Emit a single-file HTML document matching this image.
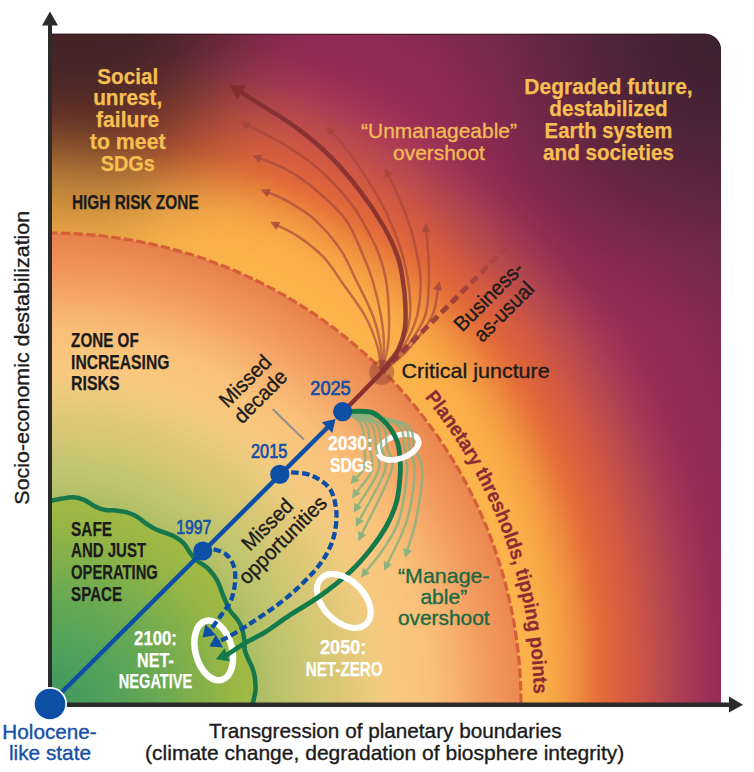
<!DOCTYPE html>
<html><head><meta charset="utf-8">
<style>
html,body{margin:0;padding:0;background:#fff;}
body{width:754px;height:772px;overflow:hidden;}
svg{display:block;}
text{font-family:"Liberation Sans",sans-serif;}
</style></head><body>
<svg width="754" height="772" viewBox="0 0 754 772">
<defs>
 <clipPath id="plot"><path d="M52 33.7 H705 A16 16 0 0 1 721 49.7 V703 H52 Z"/></clipPath>
 <clipPath id="outside"><path d="M0 0 H754 V772 H0 Z M50 233 A471 471 0 0 0 50 1175 A471 471 0 0 0 50 233 Z" clip-rule="evenodd"/></clipPath>
 <radialGradient id="outer" gradientUnits="userSpaceOnUse" cx="50" cy="704" r="960" gradientTransform="translate(50 704) scale(0.975 1) rotate(-45) scale(1.04 0.99) rotate(45) translate(-50 -704)">
  <stop offset="0.4906" stop-color="#fbb44c"/>
  <stop offset="0.4973" stop-color="#fbb24b"/>
  <stop offset="0.5040" stop-color="#fbb14b"/>
  <stop offset="0.5106" stop-color="#faaf4a"/>
  <stop offset="0.5173" stop-color="#faad49"/>
  <stop offset="0.5240" stop-color="#f9aa48"/>
  <stop offset="0.5310" stop-color="#f7a546"/>
  <stop offset="0.5380" stop-color="#f59f44"/>
  <stop offset="0.5451" stop-color="#f39842"/>
  <stop offset="0.5521" stop-color="#f09040"/>
  <stop offset="0.5579" stop-color="#ee893e"/>
  <stop offset="0.5638" stop-color="#eb813d"/>
  <stop offset="0.5696" stop-color="#e8793b"/>
  <stop offset="0.5754" stop-color="#e5723a"/>
  <stop offset="0.5813" stop-color="#e26c3a"/>
  <stop offset="0.5875" stop-color="#df673b"/>
  <stop offset="0.5938" stop-color="#dc633c"/>
  <stop offset="0.6000" stop-color="#d9603e"/>
  <stop offset="0.6062" stop-color="#d65d40"/>
  <stop offset="0.6125" stop-color="#d25a42"/>
  <stop offset="0.6188" stop-color="#ce5744"/>
  <stop offset="0.6250" stop-color="#ca5447"/>
  <stop offset="0.6312" stop-color="#c55049"/>
  <stop offset="0.6375" stop-color="#c04d4c"/>
  <stop offset="0.6438" stop-color="#bc4a4e"/>
  <stop offset="0.6500" stop-color="#b84650"/>
  <stop offset="0.6562" stop-color="#b34351"/>
  <stop offset="0.6625" stop-color="#ae3f53"/>
  <stop offset="0.6687" stop-color="#aa3b54"/>
  <stop offset="0.6750" stop-color="#a63855"/>
  <stop offset="0.6815" stop-color="#a23556"/>
  <stop offset="0.6880" stop-color="#9e3256"/>
  <stop offset="0.6945" stop-color="#9b3056"/>
  <stop offset="0.7010" stop-color="#982e56"/>
  <stop offset="0.7072" stop-color="#962d56"/>
  <stop offset="0.7133" stop-color="#952c56"/>
  <stop offset="0.7194" stop-color="#932c55"/>
  <stop offset="0.7255" stop-color="#922c55"/>
  <stop offset="0.7316" stop-color="#912b54"/>
  <stop offset="0.7378" stop-color="#902b54"/>
  <stop offset="0.7439" stop-color="#8e2b54"/>
  <stop offset="0.7500" stop-color="#8d2b53"/>
  <stop offset="0.7562" stop-color="#8b2b52"/>
  <stop offset="0.7625" stop-color="#8a2b52"/>
  <stop offset="0.7688" stop-color="#882b51"/>
  <stop offset="0.7750" stop-color="#862a50"/>
  <stop offset="0.7812" stop-color="#842a50"/>
  <stop offset="0.7875" stop-color="#822a4f"/>
  <stop offset="0.7937" stop-color="#802a4e"/>
  <stop offset="0.8000" stop-color="#7f2a4d"/>
  <stop offset="0.8063" stop-color="#7d2a4d"/>
  <stop offset="0.8125" stop-color="#7b2a4c"/>
  <stop offset="0.8186" stop-color="#792a4b"/>
  <stop offset="0.8247" stop-color="#782a4b"/>
  <stop offset="0.8307" stop-color="#762a4a"/>
  <stop offset="0.8368" stop-color="#74294a"/>
  <stop offset="0.8429" stop-color="#722949"/>
  <stop offset="0.8490" stop-color="#712949"/>
  <stop offset="0.8550" stop-color="#6f2948"/>
  <stop offset="0.8611" stop-color="#6d2947"/>
  <stop offset="0.8672" stop-color="#6c2947"/>
  <stop offset="0.8733" stop-color="#6a2846"/>
  <stop offset="0.8793" stop-color="#682846"/>
  <stop offset="0.8854" stop-color="#672845"/>
  <stop offset="0.8916" stop-color="#662844"/>
  <stop offset="0.8977" stop-color="#642844"/>
  <stop offset="0.9039" stop-color="#632743"/>
  <stop offset="0.9100" stop-color="#612742"/>
  <stop offset="0.9162" stop-color="#602741"/>
  <stop offset="0.9223" stop-color="#5f2741"/>
  <stop offset="0.9285" stop-color="#5e2740"/>
  <stop offset="0.9347" stop-color="#5d273f"/>
  <stop offset="0.9408" stop-color="#5b263f"/>
  <stop offset="0.9470" stop-color="#5a263e"/>
  <stop offset="0.9531" stop-color="#59263d"/>
  <stop offset="0.9590" stop-color="#58263c"/>
  <stop offset="0.9648" stop-color="#57263c"/>
  <stop offset="0.9707" stop-color="#56263b"/>
  <stop offset="0.9766" stop-color="#55253a"/>
  <stop offset="0.9824" stop-color="#542539"/>
  <stop offset="0.9883" stop-color="#532539"/>
  <stop offset="0.9941" stop-color="#522538"/>
  <stop offset="1.0000" stop-color="#512537"/>
 </radialGradient>
 <radialGradient id="lyellow" gradientUnits="userSpaceOnUse" cx="52" cy="205" r="100" gradientTransform="translate(52 205) scale(1.15 1) translate(-52 -205)">
  <stop offset="0" stop-color="#eca442" stop-opacity="0.9"/>
  <stop offset="0.5" stop-color="#eca442" stop-opacity="0.55"/>
  <stop offset="1" stop-color="#eca442" stop-opacity="0"/>
 </radialGradient>
 <radialGradient id="tldark" gradientUnits="userSpaceOnUse" cx="40" cy="20" r="200" gradientTransform="translate(40 20) scale(1.5 1) translate(-40 -20)">
  <stop offset="0" stop-color="#2e1e24" stop-opacity="1"/>
  <stop offset="0.3" stop-color="#2e1e24" stop-opacity="0.9"/>
  <stop offset="0.5" stop-color="#2e1e24" stop-opacity="0.6"/>
  <stop offset="0.7" stop-color="#2e1e24" stop-opacity="0.25"/>
  <stop offset="0.85" stop-color="#2e1e24" stop-opacity="0.07"/>
  <stop offset="1" stop-color="#2e1e24" stop-opacity="0"/>
 </radialGradient>
 <radialGradient id="trdark" gradientUnits="userSpaceOnUse" cx="721" cy="33" r="360" gradientTransform="translate(721 33) rotate(135) scale(1 0.66) translate(-721 -33)">
  <stop offset="0" stop-color="#36202c" stop-opacity="0.85"/>
  <stop offset="0.25" stop-color="#36202c" stop-opacity="0.62"/>
  <stop offset="0.5" stop-color="#36202c" stop-opacity="0.36"/>
  <stop offset="0.75" stop-color="#36202c" stop-opacity="0.11"/>
  <stop offset="1" stop-color="#36202c" stop-opacity="0"/>
 </radialGradient>
 <linearGradient id="bauFade" gradientUnits="userSpaceOnUse" x1="382" y1="372" x2="506" y2="248">
  <stop offset="0" stop-color="#8b3038" stop-opacity="0.85"/>
  <stop offset="0.6" stop-color="#8b3038" stop-opacity="0.75"/>
  <stop offset="1" stop-color="#8b3038" stop-opacity="0.15"/>
 </linearGradient>
 <radialGradient id="inner" gradientUnits="userSpaceOnUse" cx="50" cy="704" r="471" gradientTransform="translate(50 704) scale(1.03 1) translate(-50 -704)">
  <stop offset="0.0000" stop-color="#3f9a62"/>
  <stop offset="0.0129" stop-color="#429b62"/>
  <stop offset="0.0258" stop-color="#459c62"/>
  <stop offset="0.0387" stop-color="#489d61"/>
  <stop offset="0.0516" stop-color="#4c9e61"/>
  <stop offset="0.0645" stop-color="#4f9f61"/>
  <stop offset="0.0773" stop-color="#52a061"/>
  <stop offset="0.0902" stop-color="#55a161"/>
  <stop offset="0.1031" stop-color="#58a360"/>
  <stop offset="0.1160" stop-color="#5ba460"/>
  <stop offset="0.1289" stop-color="#5ea560"/>
  <stop offset="0.1418" stop-color="#62a660"/>
  <stop offset="0.1547" stop-color="#65a75f"/>
  <stop offset="0.1676" stop-color="#68a85f"/>
  <stop offset="0.1805" stop-color="#6ba95f"/>
  <stop offset="0.1934" stop-color="#6eaa5f"/>
  <stop offset="0.2062" stop-color="#71ab5e"/>
  <stop offset="0.2191" stop-color="#74ac5e"/>
  <stop offset="0.2320" stop-color="#78ad5e"/>
  <stop offset="0.2449" stop-color="#7bae5e"/>
  <stop offset="0.2578" stop-color="#7eaf5e"/>
  <stop offset="0.2707" stop-color="#81b05e"/>
  <stop offset="0.2836" stop-color="#84b15e"/>
  <stop offset="0.2965" stop-color="#88b35e"/>
  <stop offset="0.3094" stop-color="#8bb45e"/>
  <stop offset="0.3223" stop-color="#8eb55e"/>
  <stop offset="0.3352" stop-color="#91b65e"/>
  <stop offset="0.3480" stop-color="#95b75e"/>
  <stop offset="0.3609" stop-color="#98b85e"/>
  <stop offset="0.3731" stop-color="#9bb95e"/>
  <stop offset="0.3852" stop-color="#9fba60"/>
  <stop offset="0.3973" stop-color="#a3bb61"/>
  <stop offset="0.4095" stop-color="#a7bd63"/>
  <stop offset="0.4216" stop-color="#aabe65"/>
  <stop offset="0.4337" stop-color="#aebf66"/>
  <stop offset="0.4459" stop-color="#b2c068"/>
  <stop offset="0.4580" stop-color="#b6c169"/>
  <stop offset="0.4701" stop-color="#b9c26b"/>
  <stop offset="0.4823" stop-color="#bdc36c"/>
  <stop offset="0.4944" stop-color="#c0c46e"/>
  <stop offset="0.5065" stop-color="#c3c56f"/>
  <stop offset="0.5187" stop-color="#c7c571"/>
  <stop offset="0.5308" stop-color="#cac672"/>
  <stop offset="0.5429" stop-color="#cdc673"/>
  <stop offset="0.5551" stop-color="#d0c774"/>
  <stop offset="0.5672" stop-color="#d3c775"/>
  <stop offset="0.5793" stop-color="#d7c775"/>
  <stop offset="0.5914" stop-color="#dac776"/>
  <stop offset="0.6036" stop-color="#ddc877"/>
  <stop offset="0.6157" stop-color="#e0c878"/>
  <stop offset="0.6299" stop-color="#e4c97a"/>
  <stop offset="0.6440" stop-color="#e8ca7c"/>
  <stop offset="0.6582" stop-color="#eccb7e"/>
  <stop offset="0.6709" stop-color="#efcb7f"/>
  <stop offset="0.6837" stop-color="#f3ca80"/>
  <stop offset="0.6964" stop-color="#f6c980"/>
  <stop offset="0.7091" stop-color="#f8c880"/>
  <stop offset="0.7219" stop-color="#f9c77f"/>
  <stop offset="0.7346" stop-color="#f9c67e"/>
  <stop offset="0.7473" stop-color="#f9c57d"/>
  <stop offset="0.7601" stop-color="#f9c47c"/>
  <stop offset="0.7728" stop-color="#f9c27a"/>
  <stop offset="0.7856" stop-color="#f9c078"/>
  <stop offset="0.7983" stop-color="#f9bd77"/>
  <stop offset="0.8110" stop-color="#f8b975"/>
  <stop offset="0.8238" stop-color="#f8b672"/>
  <stop offset="0.8365" stop-color="#f7b270"/>
  <stop offset="0.8493" stop-color="#f6ae6d"/>
  <stop offset="0.8620" stop-color="#f5a96a"/>
  <stop offset="0.8747" stop-color="#f4a567"/>
  <stop offset="0.8875" stop-color="#f3a063"/>
  <stop offset="0.9002" stop-color="#f29c60"/>
  <stop offset="0.9130" stop-color="#f1985d"/>
  <stop offset="0.9257" stop-color="#f0955a"/>
  <stop offset="0.9384" stop-color="#ef9157"/>
  <stop offset="0.9512" stop-color="#ed8e55"/>
  <stop offset="0.9639" stop-color="#ec8a52"/>
  <stop offset="0.9759" stop-color="#ea8650"/>
  <stop offset="0.9880" stop-color="#e8824e"/>
  <stop offset="1.0000" stop-color="#e67e4c"/>
 </radialGradient>
 <radialGradient id="green" gradientUnits="userSpaceOnUse" cx="50" cy="704" r="240">
  <stop offset="0.0000" stop-color="#40985e"/>
  <stop offset="0.0260" stop-color="#42995e"/>
  <stop offset="0.0521" stop-color="#439a5e"/>
  <stop offset="0.0781" stop-color="#459b5e"/>
  <stop offset="0.1042" stop-color="#469c5d"/>
  <stop offset="0.1302" stop-color="#489d5d"/>
  <stop offset="0.1562" stop-color="#4a9e5d"/>
  <stop offset="0.1823" stop-color="#4c9f5d"/>
  <stop offset="0.2083" stop-color="#4ea05c"/>
  <stop offset="0.2344" stop-color="#50a15b"/>
  <stop offset="0.2604" stop-color="#53a25a"/>
  <stop offset="0.2865" stop-color="#55a35a"/>
  <stop offset="0.3125" stop-color="#58a458"/>
  <stop offset="0.3385" stop-color="#5ba557"/>
  <stop offset="0.3646" stop-color="#5ea656"/>
  <stop offset="0.3906" stop-color="#61a755"/>
  <stop offset="0.4167" stop-color="#64a854"/>
  <stop offset="0.4427" stop-color="#68a953"/>
  <stop offset="0.4688" stop-color="#6baa52"/>
  <stop offset="0.4948" stop-color="#6fab50"/>
  <stop offset="0.5208" stop-color="#73ac4f"/>
  <stop offset="0.5469" stop-color="#78ad4e"/>
  <stop offset="0.5729" stop-color="#7cae4c"/>
  <stop offset="0.5990" stop-color="#80af4b"/>
  <stop offset="0.6250" stop-color="#84b04a"/>
  <stop offset="0.6488" stop-color="#88b149"/>
  <stop offset="0.6726" stop-color="#8bb248"/>
  <stop offset="0.6964" stop-color="#8fb447"/>
  <stop offset="0.7202" stop-color="#93b546"/>
  <stop offset="0.7440" stop-color="#96b645"/>
  <stop offset="0.7679" stop-color="#99b744"/>
  <stop offset="0.7917" stop-color="#9cb844"/>
  <stop offset="0.8177" stop-color="#9eb944"/>
  <stop offset="0.8438" stop-color="#a0b944"/>
  <stop offset="0.8698" stop-color="#a2ba44"/>
  <stop offset="0.8958" stop-color="#a3ba44"/>
  <stop offset="0.9219" stop-color="#a4bb45"/>
  <stop offset="0.9479" stop-color="#a5bb45"/>
  <stop offset="0.9740" stop-color="#a7bc46"/>
  <stop offset="1.0000" stop-color="#a8bc46"/>
 </radialGradient>
 <clipPath id="lowerHalf2030"><path d="M340 468 L460 425 L460 500 L340 500 Z"/></clipPath>
 <clipPath id="upperHalf2050"><path d="M260 517 L420 677 L480 677 L480 480 L260 480 Z"/></clipPath>
 <path id="arcText" d="M50 220 A484 484 0 0 1 534 704"/>
 <filter id="blurTL" color-interpolation-filters="sRGB" filterUnits="userSpaceOnUse" x="-400" y="-400" width="1600" height="1600"><feGaussianBlur stdDeviation="52"/></filter>
</defs>
<g clip-path="url(#plot)">
 <rect x="0" y="0" width="754" height="772" fill="url(#outer)"/>
 <rect x="0" y="0" width="754" height="772" fill="url(#lyellow)" clip-path="url(#outside)"/>
 <path d="M-200 -200 L265 -200 L230 50 L205 95 L182 140 L145 172 L100 178 L60 155 L-200 145 Z" fill="#35211f" fill-opacity="0.88" filter="url(#blurTL)"/>
 <rect x="0" y="0" width="754" height="772" fill="url(#trdark)"/>
 <circle cx="50" cy="704" r="471" fill="url(#inner)"/>
 <path d="M50.0 501.0 C51.8 500.6 56.8 499.4 60.7 498.8 C64.6 498.2 69.6 497.1 73.5 497.3 C77.4 497.5 80.6 498.4 84.1 499.9 C87.6 501.4 91.2 504.5 94.7 506.2 C98.2 507.9 101.8 509.3 105.3 510.0 C108.8 510.7 112.4 510.1 115.9 510.5 C119.4 510.9 123.0 511.2 126.5 512.2 C130.0 513.2 133.9 515.0 137.1 516.8 C140.3 518.6 142.8 521.2 145.6 523.2 C148.4 525.2 150.9 526.9 154.1 528.5 C157.3 530.1 161.2 531.3 164.7 532.7 C168.2 534.1 172.1 535.2 175.3 537.0 C178.5 538.8 181.3 540.8 183.8 543.4 C186.3 546.0 188.1 550.1 190.2 552.9 C192.3 555.7 193.5 557.6 196.5 560.3 C199.5 562.9 205.0 565.4 208.4 568.8 C211.8 572.2 214.8 576.1 217.2 580.5 C219.6 584.9 220.9 590.1 223.0 595.0 C225.1 599.9 227.3 606.0 229.6 610.0 C231.9 614.0 235.0 616.2 237.0 619.0 C239.0 621.8 240.3 623.5 241.5 627.0 C242.7 630.5 243.8 636.2 244.4 640.0 C245.0 643.8 244.1 646.7 244.8 650.0 C245.5 653.3 247.3 656.8 248.7 660.0 C250.0 663.2 251.8 666.2 252.9 669.4 C254.0 672.6 254.6 675.6 255.0 679.0 C255.4 682.4 255.8 686.0 255.5 690.0 C255.2 694.0 253.6 699.7 253.0 703.0 C252.4 706.3 252.2 708.8 252.0 710.0 L40 708 L40 502 Z" fill="url(#green)"/>
 <path d="M50.0 501.0 C51.8 500.6 56.8 499.4 60.7 498.8 C64.6 498.2 69.6 497.1 73.5 497.3 C77.4 497.5 80.6 498.4 84.1 499.9 C87.6 501.4 91.2 504.5 94.7 506.2 C98.2 507.9 101.8 509.3 105.3 510.0 C108.8 510.7 112.4 510.1 115.9 510.5 C119.4 510.9 123.0 511.2 126.5 512.2 C130.0 513.2 133.9 515.0 137.1 516.8 C140.3 518.6 142.8 521.2 145.6 523.2 C148.4 525.2 150.9 526.9 154.1 528.5 C157.3 530.1 161.2 531.3 164.7 532.7 C168.2 534.1 172.1 535.2 175.3 537.0 C178.5 538.8 181.3 540.8 183.8 543.4 C186.3 546.0 188.1 550.1 190.2 552.9 C192.3 555.7 193.5 557.6 196.5 560.3 C199.5 562.9 205.0 565.4 208.4 568.8 C211.8 572.2 214.8 576.1 217.2 580.5 C219.6 584.9 220.9 590.1 223.0 595.0 C225.1 599.9 227.3 606.0 229.6 610.0 C231.9 614.0 235.0 616.2 237.0 619.0 C239.0 621.8 240.3 623.5 241.5 627.0 C242.7 630.5 243.8 636.2 244.4 640.0 C245.0 643.8 244.1 646.7 244.8 650.0 C245.5 653.3 247.3 656.8 248.7 660.0 C250.0 663.2 251.8 666.2 252.9 669.4 C254.0 672.6 254.6 675.6 255.0 679.0 C255.4 682.4 255.8 686.0 255.5 690.0 C255.2 694.0 253.6 699.7 253.0 703.0 C252.4 706.3 252.2 708.8 252.0 710.0" fill="none" stroke="#17774a" stroke-width="4.5"/>
 <circle cx="50" cy="704" r="471" fill="none" stroke="#d65f38" stroke-width="3.2" stroke-dasharray="9.3 3.3"/>
 <rect x="52" y="33.7" width="655" height="1.1" fill="#2c1a1e" fill-opacity="0.85"/>
</g>
<text font-weight="bold" font-size="20" fill="#8b2b34" stroke="#8b2b34" stroke-width="0.25"><textPath href="#arcText" xlink:href="#arcText" startOffset="428" textLength="322" lengthAdjust="spacingAndGlyphs">Planetary thresholds, tipping points</textPath></text>
<ellipse cx="343.8" cy="601" rx="32" ry="20.5" transform="rotate(45 343.8 601)" fill="none" stroke="#fff" stroke-width="6"/>
<ellipse cx="213.7" cy="650.4" rx="18.3" ry="30.5" transform="rotate(-15 213.7 650.4)" fill="none" stroke="#fff" stroke-width="6.5"/>
<path d="M381.7 372.0 C382.8 367.5 386.8 354.3 388.0 345.0 C389.2 335.7 389.3 326.8 389.0 316.0 C388.7 305.2 387.8 290.7 386.0 280.0 C384.2 269.3 381.7 261.3 378.0 252.0 C374.3 242.7 368.6 232.2 364.0 224.0 C359.4 215.8 357.4 211.3 350.3 202.6 C343.2 193.9 332.4 181.1 321.6 171.6 C310.9 162.1 298.4 153.3 285.8 145.4 C273.2 137.5 252.5 127.9 245.8 124.4" fill="none" stroke="#a6463c" stroke-opacity="0.66" stroke-width="2.5"/>
<path d="M240.5 121.6 L250.6 121.8 L246.4 129.8 Z" fill="#a3463a" fill-opacity="0.8"/>
<path d="M381.7 372.0 C382.1 367.5 384.1 354.3 384.0 345.0 C383.9 335.7 382.8 326.5 381.0 316.0 C379.2 305.5 376.0 292.2 373.0 282.0 C370.0 271.8 367.6 265.4 363.0 255.0 C358.4 244.6 353.2 230.1 345.5 219.4 C337.8 208.7 326.8 199.1 316.8 190.7 C306.9 182.3 295.6 174.7 285.8 169.2 C276.0 163.7 262.6 159.6 257.9 157.7" fill="none" stroke="#a6463c" stroke-opacity="0.66" stroke-width="2.5"/>
<path d="M252.4 155.4 L262.4 154.7 L259.0 163.0 Z" fill="#a3463a" fill-opacity="0.8"/>
<path d="M381.7 372.0 C381.5 367.5 381.9 354.3 380.5 345.0 C379.1 335.7 377.1 326.8 373.0 316.0 C368.9 305.2 361.4 291.0 356.0 280.0 C350.6 269.0 347.6 260.1 340.7 250.0 C333.8 239.9 323.6 227.7 314.5 219.4 C305.4 211.1 293.8 204.9 285.8 200.3 C277.8 195.7 269.5 193.3 266.2 191.9" fill="none" stroke="#a6463c" stroke-opacity="0.66" stroke-width="2.5"/>
<path d="M260.7 189.5 L270.7 188.9 L267.2 197.2 Z" fill="#a3463a" fill-opacity="0.8"/>
<path d="M381.7 372.0 C380.9 367.5 379.8 354.3 377.0 345.0 C374.2 335.7 371.0 326.7 365.0 316.0 C359.0 305.3 347.8 290.7 341.0 281.0 C334.2 271.3 331.2 265.1 324.0 257.6 C316.8 250.1 305.8 241.6 297.7 236.1 C289.6 230.6 279.3 226.4 275.6 224.5" fill="none" stroke="#a6463c" stroke-opacity="0.66" stroke-width="2.5"/>
<path d="M270.3 221.7 L280.4 221.9 L276.2 229.9 Z" fill="#a3463a" fill-opacity="0.8"/>
<path d="M381.7 372.0 C384.9 367.5 396.3 354.3 401.0 345.0 C405.7 335.7 408.8 326.8 410.0 316.0 C411.2 305.2 409.6 291.3 408.0 280.0 C406.4 268.7 404.0 259.3 400.4 248.0 C396.8 236.7 391.7 223.7 386.1 212.2 C380.5 200.7 373.8 189.6 367.0 178.8 C360.2 168.1 351.6 155.7 345.5 147.7 C339.4 139.7 332.9 133.6 330.4 130.8" fill="none" stroke="#a6463c" stroke-opacity="0.66" stroke-width="2.5"/>
<path d="M326.4 126.3 L335.8 130.0 L329.0 136.0 Z" fill="#a3463a" fill-opacity="0.8"/>
<path d="M381.7 372.0 C385.2 367.8 397.1 356.3 403.0 347.0 C408.9 337.7 414.1 327.2 417.0 316.0 C419.9 304.8 420.7 290.1 420.7 280.0 C420.7 269.9 418.9 264.1 417.1 255.2 C415.3 246.3 413.2 236.4 410.0 226.5 C406.8 216.6 401.8 204.3 398.0 195.5 C394.2 186.7 389.2 177.1 387.5 173.4" fill="none" stroke="#a6463c" stroke-opacity="0.66" stroke-width="2.5"/>
<path d="M384.9 168.0 L392.8 174.2 L384.7 178.1 Z" fill="#a3463a" fill-opacity="0.8"/>
<path d="M381.7 372.0 C385.6 368.2 397.8 358.3 405.0 349.0 C412.2 339.7 421.0 327.5 425.0 316.0 C429.0 304.5 428.5 291.3 429.0 280.0 C429.5 268.7 428.3 256.5 427.8 248.0 C427.3 239.5 426.3 232.1 426.0 228.9" fill="none" stroke="#a6463c" stroke-opacity="0.66" stroke-width="2.5"/>
<path d="M425.5 222.9 L430.8 231.5 L421.8 232.3 Z" fill="#a3463a" fill-opacity="0.8"/>
<path d="M381.7 372.0 C385.9 368.5 398.6 360.3 407.0 351.0 C415.4 341.7 426.8 326.7 432.0 316.0 C437.2 305.3 437.1 291.7 438.2 286.9" fill="none" stroke="#a6463c" stroke-opacity="0.66" stroke-width="2.5"/>
<path d="M439.4 281.0 L441.9 290.7 L433.1 288.9 Z" fill="#a3463a" fill-opacity="0.8"/>
<path d="M381.7 372.0 C382.9 370.3 386.2 365.7 389.0 362.0 C391.8 358.3 395.7 354.9 398.3 349.6 C400.9 344.3 403.4 336.6 404.6 330.0 C405.8 323.4 405.7 317.5 405.5 310.0 C405.3 302.5 404.8 293.7 403.5 285.0 C402.2 276.3 401.3 267.4 398.0 257.6 C394.7 247.9 390.1 237.7 383.7 226.5 C377.3 215.3 368.6 202.2 359.8 190.7 C351.1 179.2 341.6 167.7 331.2 157.3 C320.8 147.0 310.0 137.8 297.7 128.6 C285.4 119.4 267.3 108.8 257.2 102.4 C247.1 96.0 240.7 92.1 237.4 90.0" fill="none" stroke="#7f2d2e" stroke-opacity="0.86" stroke-width="4.5"/>
<path d="M228.9 84.7 L245.9 85.9 L237.4 99.4 Z" fill="#7f2d2e" fill-opacity="0.9"/>
<path d="M382 372 L506 248" stroke="url(#bauFade)" stroke-width="5" stroke-dasharray="9 5" fill="none"/>
<path d="M343 412 L383 371" stroke="#8a2e2e" stroke-width="4.5" fill="none"/>
<circle cx="381.7" cy="372.3" r="12.5" fill="#8c3a30" fill-opacity="0.45"/>
<ellipse cx="398.5" cy="447" rx="21" ry="11.5" transform="rotate(-20 398.5 447)" fill="none" stroke="#fff" stroke-width="5.5"/>
<path d="M344.0 411.5 C346.8 413.6 357.6 417.9 361.0 424.0 C364.4 430.1 364.0 440.7 364.5 448.0 C365.0 455.3 365.7 462.7 364.0 468.0 C362.3 473.3 356.0 477.7 354.3 479.6" fill="none" stroke="#89b27e" stroke-opacity="0.85" stroke-width="2.5"/>
<path d="M350.5 484.2 L352.8 474.4 L359.7 480.2 Z" fill="#89b27e" fill-opacity="0.95"/>
<path d="M344.0 411.5 C347.7 413.6 361.7 417.9 366.0 424.0 C370.3 430.1 369.1 440.2 370.0 448.0 C370.9 455.8 374.0 463.4 371.6 471.0 C369.2 478.6 358.0 489.8 355.3 493.5" fill="none" stroke="#89b27e" stroke-opacity="0.85" stroke-width="2.5"/>
<path d="M351.8 498.4 L353.4 488.5 L360.7 493.7 Z" fill="#89b27e" fill-opacity="0.95"/>
<path d="M344.0 411.5 C348.5 413.6 365.7 417.9 371.0 424.0 C376.3 430.1 374.8 440.2 376.0 448.0 C377.2 455.8 381.4 461.1 378.2 471.0 C375.0 480.9 360.3 501.4 356.7 507.5" fill="none" stroke="#89b27e" stroke-opacity="0.85" stroke-width="2.5"/>
<path d="M353.7 512.7 L354.4 502.7 L362.1 507.2 Z" fill="#89b27e" fill-opacity="0.95"/>
<path d="M344.0 411.5 C349.3 413.6 369.8 417.9 376.0 424.0 C382.2 430.1 380.0 440.2 381.5 448.0 C383.0 455.8 388.6 458.7 384.8 471.0 C381.0 483.3 362.9 513.2 358.5 521.7" fill="none" stroke="#89b27e" stroke-opacity="0.85" stroke-width="2.5"/>
<path d="M355.7 527.0 L355.9 516.9 L363.8 521.1 Z" fill="#89b27e" fill-opacity="0.95"/>
<path d="M344.0 411.5 C350.2 413.6 373.8 417.9 381.0 424.0 C388.2 430.1 385.3 440.2 387.0 448.0 C388.7 455.8 395.7 456.4 391.3 471.0 C386.9 485.6 365.9 525.0 360.9 535.8" fill="none" stroke="#89b27e" stroke-opacity="0.85" stroke-width="2.5"/>
<path d="M358.3 541.2 L358.1 531.1 L366.2 535.0 Z" fill="#89b27e" fill-opacity="0.95"/>
<path d="M344.0 411.5 C352.7 413.6 385.9 417.9 396.0 424.0 C406.1 430.1 402.7 440.2 404.5 448.0 C406.3 455.8 407.9 459.0 407.0 471.0 C406.1 483.0 403.2 506.7 399.0 520.0 C394.8 533.3 387.7 542.2 382.0 551.0 C376.3 559.8 367.5 569.2 364.6 572.8" fill="none" stroke="#89b27e" stroke-opacity="0.85" stroke-width="2.5"/>
<path d="M360.9 577.5 L363.0 567.7 L370.0 573.3 Z" fill="#89b27e" fill-opacity="0.95"/>
<path d="M344.0 411.5 C353.5 413.6 390.1 417.9 401.0 424.0 C411.9 430.1 406.9 440.2 409.2 448.0 C411.5 455.8 415.0 459.0 414.6 471.0 C414.2 483.0 411.7 504.2 407.0 520.0 C402.3 535.8 390.0 557.9 386.6 565.5" fill="none" stroke="#89b27e" stroke-opacity="0.85" stroke-width="2.5"/>
<path d="M384.2 571.0 L383.8 560.9 L392.0 564.6 Z" fill="#89b27e" fill-opacity="0.95"/>
<path d="M344.0 411.5 C354.2 413.6 393.3 417.9 405.0 424.0 C416.7 430.1 411.1 440.2 414.0 448.0 C416.9 455.8 422.1 459.0 422.4 471.0 C422.7 483.0 418.6 506.5 416.0 520.0 C413.4 533.5 408.2 546.9 406.7 552.2" fill="none" stroke="#89b27e" stroke-opacity="0.85" stroke-width="2.5"/>
<path d="M405.0 558.0 L403.2 548.1 L411.8 550.6 Z" fill="#89b27e" fill-opacity="0.95"/>
<path d="M344.0 411.5 C348.3 411.6 363.5 410.6 369.8 411.9 C376.1 413.2 378.2 416.1 381.8 419.1 C385.4 422.1 388.7 426.0 391.3 429.8 C393.9 433.6 395.9 437.6 397.3 441.8 C398.7 446.0 399.2 450.0 399.7 455.0 C400.2 460.0 400.8 464.5 400.3 472.0 C399.9 479.5 399.2 491.2 397.0 500.0 C394.8 508.8 391.5 516.7 387.0 525.0 C382.5 533.3 376.2 542.2 370.0 550.0 C363.8 557.8 358.3 564.3 350.0 572.0 C341.7 579.7 330.0 588.8 320.0 596.0 C310.0 603.2 299.2 609.0 290.0 615.0 C280.8 621.0 272.5 627.6 265.0 632.3 C257.5 637.0 251.2 639.3 245.0 643.0 C238.8 646.7 231.0 652.4 227.7 654.5 C224.4 656.6 225.5 655.4 225.1 655.6" fill="none" stroke="#137a4c" stroke-width="4.8"/><path d="M215.8 659.3 L224.7 648.2 L229.9 661.2 Z" fill="#137a4c"/>
<g clip-path="url(#lowerHalf2030)"><ellipse cx="398.5" cy="447" rx="21" ry="11.5" transform="rotate(-20 398.5 447)" fill="none" stroke="#fff" stroke-width="5.5"/></g>
<g clip-path="url(#upperHalf2050)"><ellipse cx="343.8" cy="601" rx="32" ry="20.5" transform="rotate(45 343.8 601)" fill="none" stroke="#fff" stroke-width="6"/></g>
<path d="M280.4 474.2 C282.1 473.9 285.6 472.2 290.8 472.4 C296.0 472.6 305.0 472.8 311.5 475.5 C318.0 478.2 325.5 482.9 329.6 488.5 C333.7 494.1 335.2 501.9 336.1 509.2 C337.0 516.5 336.3 525.2 334.8 532.5 C333.3 539.8 330.4 546.7 327.0 553.2 C323.6 559.7 319.7 564.8 314.1 571.3 C308.5 577.8 300.7 585.5 293.4 592.0 C286.1 598.5 277.9 604.6 270.1 610.2 C262.3 615.8 253.5 621.4 246.8 625.7 C240.1 630.0 234.6 633.4 230.0 636.0 C225.4 638.6 221.0 640.3 219.0 641.3 C217.0 642.3 218.3 641.7 218.2 641.8" fill="none" stroke="#0d4ea6" stroke-width="4.3" stroke-dasharray="7.5 3.5"/>
<path d="M209.4 646.6 L215.8 634.5 L223.1 647.6 Z" fill="#0d4ea6"/>
<path d="M202.8 550.6 C204.5 550.4 209.2 548.6 213.1 549.3 C217.0 549.9 222.6 551.7 226.1 554.5 C229.6 557.3 232.3 561.6 233.8 566.1 C235.3 570.6 235.5 576.1 235.1 581.7 C234.7 587.3 233.4 594.4 231.2 599.8 C229.0 605.2 225.4 609.0 222.0 614.0 C218.6 619.0 212.8 626.8 210.7 629.6 C208.6 632.4 209.8 630.4 209.7 630.6" fill="none" stroke="#0d4ea6" stroke-width="4.3" stroke-dasharray="7.5 3.5"/>
<path d="M202.5 637.6 L205.5 624.2 L216.0 634.9 Z" fill="#0d4ea6"/>
<path d="M50 704 L328 427" stroke="#0d4ea6" stroke-width="4.5"/>
<path d="M335.5 419 L321.8 422.2 L332.3 432.9 Z" fill="#0d4ea6"/>
<circle cx="202.8" cy="551" r="9.6" fill="#0d4ea6"/>
<circle cx="279.8" cy="474.4" r="9.6" fill="#0d4ea6"/>
<circle cx="342.6" cy="411.7" r="9.6" fill="#0d4ea6"/>
<path d="M272.6 409 L304 439.6" stroke="#8f8f8f" stroke-width="2"/>
<rect x="48" y="24" width="4" height="684" fill="#2b2b2b"/>
<path d="M42 25.5 L50 11.5 L58 25.5 Z" fill="#2b2b2b"/>
<rect x="48" y="702.5" width="682" height="4.5" fill="#2b2b2b"/>
<path d="M729 696.5 L743 704.7 L729 712.5 Z" fill="#2b2b2b"/>
<circle cx="50" cy="704" r="17" fill="#fff"/>
<circle cx="50" cy="704" r="15.3" fill="#0d4ea6"/>
<text x="127.7" y="83.6" font-size="22" fill="#f6bf52" font-weight="bold" text-anchor="middle" textLength="60.9" lengthAdjust="spacingAndGlyphs" stroke="#f6bf52" stroke-width="0.25">Social</text>
<text x="127.7" y="105.39999999999999" font-size="22" fill="#f6bf52" font-weight="bold" text-anchor="middle" textLength="69.1" lengthAdjust="spacingAndGlyphs" stroke="#f6bf52" stroke-width="0.25">unrest,</text>
<text x="127.7" y="127.19999999999999" font-size="22" fill="#f6bf52" font-weight="bold" text-anchor="middle" textLength="63.3" lengthAdjust="spacingAndGlyphs" stroke="#f6bf52" stroke-width="0.25">failure</text>
<text x="127.7" y="149.0" font-size="22" fill="#f6bf52" font-weight="bold" text-anchor="middle" textLength="75.8" lengthAdjust="spacingAndGlyphs" stroke="#f6bf52" stroke-width="0.25">to meet</text>
<text x="127.7" y="170.8" font-size="22" fill="#f6bf52" font-weight="bold" text-anchor="middle" textLength="54.1" lengthAdjust="spacingAndGlyphs" stroke="#f6bf52" stroke-width="0.25">SDGs</text>
<text x="71.9" y="208.8" font-size="20.5" fill="#1b1b1b" font-weight="bold" text-anchor="start" textLength="126.8" lengthAdjust="spacingAndGlyphs" stroke="#1b1b1b" stroke-width="0.25">HIGH RISK ZONE</text>
<text x="71.1" y="347.0" font-size="20.5" fill="#1b1b1b" font-weight="bold" text-anchor="start" textLength="67.6" lengthAdjust="spacingAndGlyphs" stroke="#1b1b1b" stroke-width="0.25">ZONE OF</text>
<text x="71.1" y="368.7" font-size="20.5" fill="#1b1b1b" font-weight="bold" text-anchor="start" textLength="98.3" lengthAdjust="spacingAndGlyphs" stroke="#1b1b1b" stroke-width="0.25">INCREASING</text>
<text x="71.1" y="390.4" font-size="20.5" fill="#1b1b1b" font-weight="bold" text-anchor="start" textLength="48.5" lengthAdjust="spacingAndGlyphs" stroke="#1b1b1b" stroke-width="0.25">RISKS</text>
<text x="71.1" y="535.5" font-size="20.5" fill="#1b1b1b" font-weight="bold" text-anchor="start" textLength="41.0" lengthAdjust="spacingAndGlyphs" stroke="#1b1b1b" stroke-width="0.25">SAFE</text>
<text x="71.1" y="557.3" font-size="20.5" fill="#1b1b1b" font-weight="bold" text-anchor="start" textLength="75.0" lengthAdjust="spacingAndGlyphs" stroke="#1b1b1b" stroke-width="0.25">AND JUST</text>
<text x="71.1" y="579.1" font-size="20.5" fill="#1b1b1b" font-weight="bold" text-anchor="start" textLength="86.7" lengthAdjust="spacingAndGlyphs" stroke="#1b1b1b" stroke-width="0.25">OPERATING</text>
<text x="71.1" y="600.9" font-size="20.5" fill="#1b1b1b" font-weight="bold" text-anchor="start" textLength="51.0" lengthAdjust="spacingAndGlyphs" stroke="#1b1b1b" stroke-width="0.25">SPACE</text>
<text x="608.5" y="94.4" font-size="22" fill="#f6bf52" font-weight="bold" text-anchor="middle" textLength="168.4" lengthAdjust="spacingAndGlyphs" stroke="#f6bf52" stroke-width="0.25">Degraded future,</text>
<text x="608.5" y="116.30000000000001" font-size="22" fill="#f6bf52" font-weight="bold" text-anchor="middle" textLength="118.5" lengthAdjust="spacingAndGlyphs" stroke="#f6bf52" stroke-width="0.25">destabilized</text>
<text x="608.5" y="138.2" font-size="22" fill="#f6bf52" font-weight="bold" text-anchor="middle" textLength="127.8" lengthAdjust="spacingAndGlyphs" stroke="#f6bf52" stroke-width="0.25">Earth system</text>
<text x="608.5" y="160.1" font-size="22" fill="#f6bf52" font-weight="bold" text-anchor="middle" textLength="130.8" lengthAdjust="spacingAndGlyphs" stroke="#f6bf52" stroke-width="0.25">and societies</text>
<text x="439" y="138.2" font-size="21" fill="#f3bb55" font-weight="normal" text-anchor="middle" textLength="155.8" lengthAdjust="spacingAndGlyphs" stroke="#f3bb55" stroke-width="0.35">“Unmanageable”</text>
<text x="439" y="160.1" font-size="21" fill="#f3bb55" font-weight="normal" text-anchor="middle" textLength="91.8" lengthAdjust="spacingAndGlyphs" stroke="#f3bb55" stroke-width="0.35">overshoot</text>
<text x="401.5" y="378.3" font-size="21" fill="#1b1b1b" font-weight="normal" text-anchor="start" textLength="148.2" lengthAdjust="spacingAndGlyphs" stroke="#1b1b1b" stroke-width="0.35">Critical juncture</text>
<text x="310.3" y="394.7" font-size="19.5" fill="#1450a6" font-weight="normal" text-anchor="start" textLength="40.4" lengthAdjust="spacingAndGlyphs" stroke="#1450a6" stroke-width="0.7">2025</text>
<text x="251.0" y="457.6" font-size="19.5" fill="#1450a6" font-weight="normal" text-anchor="start" textLength="36.3" lengthAdjust="spacingAndGlyphs" stroke="#1450a6" stroke-width="0.7">2015</text>
<text x="176.3" y="533.8" font-size="19.5" fill="#1450a6" font-weight="normal" text-anchor="start" textLength="35.1" lengthAdjust="spacingAndGlyphs" stroke="#1450a6" stroke-width="0.7">1997</text>
<text x="350.5" y="450.4" font-size="19.5" fill="#fff" font-weight="bold" text-anchor="middle" textLength="44.8" lengthAdjust="spacingAndGlyphs" stroke="#fff" stroke-width="0.25">2030:</text>
<text x="351.3" y="472.3" font-size="20" fill="#fff" font-weight="bold" text-anchor="middle" textLength="42.7" lengthAdjust="spacingAndGlyphs" stroke="#fff" stroke-width="0.25">SDGs</text>
<text x="155.5" y="644.7" font-size="19.5" fill="#fff" font-weight="bold" text-anchor="middle" textLength="42.8" lengthAdjust="spacingAndGlyphs" stroke="#fff" stroke-width="0.25">2100:</text>
<text x="155.5" y="666.5" font-size="19.5" fill="#fff" font-weight="bold" text-anchor="middle" textLength="36.8" lengthAdjust="spacingAndGlyphs" stroke="#fff" stroke-width="0.25">NET-</text>
<text x="155.5" y="687.8" font-size="19.5" fill="#fff" font-weight="bold" text-anchor="middle" textLength="73.3" lengthAdjust="spacingAndGlyphs" stroke="#fff" stroke-width="0.25">NEGATIVE</text>
<text x="343.2" y="653.6" font-size="19.5" fill="#fff" font-weight="bold" text-anchor="middle" textLength="46.3" lengthAdjust="spacingAndGlyphs" stroke="#fff" stroke-width="0.25">2050:</text>
<text x="344.2" y="676" font-size="20" fill="#fff" font-weight="bold" text-anchor="middle" textLength="77.0" lengthAdjust="spacingAndGlyphs" stroke="#fff" stroke-width="0.25">NET-ZERO</text>
<text x="443.8" y="582.5" font-size="21" fill="#1a6a44" font-weight="normal" text-anchor="middle" textLength="91.8" lengthAdjust="spacingAndGlyphs" stroke="#1a6a44" stroke-width="0.35">“Manage-</text>
<text x="443.8" y="603.8" font-size="21" fill="#1a6a44" font-weight="normal" text-anchor="middle" textLength="46.8" lengthAdjust="spacingAndGlyphs" stroke="#1a6a44" stroke-width="0.35">able”</text>
<text x="443.8" y="625" font-size="21" fill="#1a6a44" font-weight="normal" text-anchor="middle" textLength="91.8" lengthAdjust="spacingAndGlyphs" stroke="#1a6a44" stroke-width="0.35">overshoot</text>
<g transform="translate(250.1 386.1) rotate(-45)"><text x="0" y="0" font-size="21" fill="#1b1b1b" font-weight="normal" text-anchor="middle" textLength="64.2" lengthAdjust="spacingAndGlyphs" stroke="#1b1b1b" stroke-width="0.35">Missed</text><text x="0" y="21.7" font-size="21" fill="#1b1b1b" font-weight="normal" text-anchor="middle" textLength="65.8" lengthAdjust="spacingAndGlyphs" stroke="#1b1b1b" stroke-width="0.35">decade</text></g>
<g transform="translate(272.3 529.6) rotate(-45)"><text x="0" y="0" font-size="21" fill="#1b1b1b" font-weight="normal" text-anchor="middle" textLength="63.2" lengthAdjust="spacingAndGlyphs" stroke="#1b1b1b" stroke-width="0.35">Missed</text><text x="0" y="21.7" font-size="21" fill="#1b1b1b" font-weight="normal" text-anchor="middle" textLength="114.8" lengthAdjust="spacingAndGlyphs" stroke="#1b1b1b" stroke-width="0.35">opportunities</text></g>
<g transform="translate(493.5 301.4) rotate(-45)"><text x="0" y="0" font-size="21" fill="#1b1b1b" font-weight="normal" text-anchor="middle" textLength="88.4" lengthAdjust="spacingAndGlyphs" stroke="#1b1b1b" stroke-width="0.35">Business-</text><text x="0" y="21.7" font-size="21" fill="#1b1b1b" font-weight="normal" text-anchor="middle" textLength="75.0" lengthAdjust="spacingAndGlyphs" stroke="#1b1b1b" stroke-width="0.35">as-usual</text></g>
<text x="29" y="357.75" font-size="21" fill="#1b1b1b" font-weight="normal" text-anchor="middle" textLength="293.8" lengthAdjust="spacingAndGlyphs" transform="rotate(-90 29 357.75)" stroke="#1b1b1b" stroke-width="0.35">Socio-economic destabilization</text>
<text x="385.3" y="738.1" font-size="21" fill="#1b1b1b" font-weight="normal" text-anchor="middle" textLength="352.8" lengthAdjust="spacingAndGlyphs" stroke="#1b1b1b" stroke-width="0.35">Transgression of planetary boundaries</text>
<text x="384.7" y="759.9" font-size="21" fill="#1b1b1b" font-weight="normal" text-anchor="middle" textLength="479.3" lengthAdjust="spacingAndGlyphs" stroke="#1b1b1b" stroke-width="0.35">(climate change, degradation of biosphere integrity)</text>
<text x="49.5" y="738.6" font-size="21" fill="#1450a6" font-weight="normal" text-anchor="middle" textLength="94.3" lengthAdjust="spacingAndGlyphs" stroke="#1450a6" stroke-width="0.35">Holocene-</text>
<text x="50" y="760.1" font-size="21" fill="#1450a6" font-weight="normal" text-anchor="middle" textLength="82.1" lengthAdjust="spacingAndGlyphs" stroke="#1450a6" stroke-width="0.35">like state</text>
</svg>
</body></html>
